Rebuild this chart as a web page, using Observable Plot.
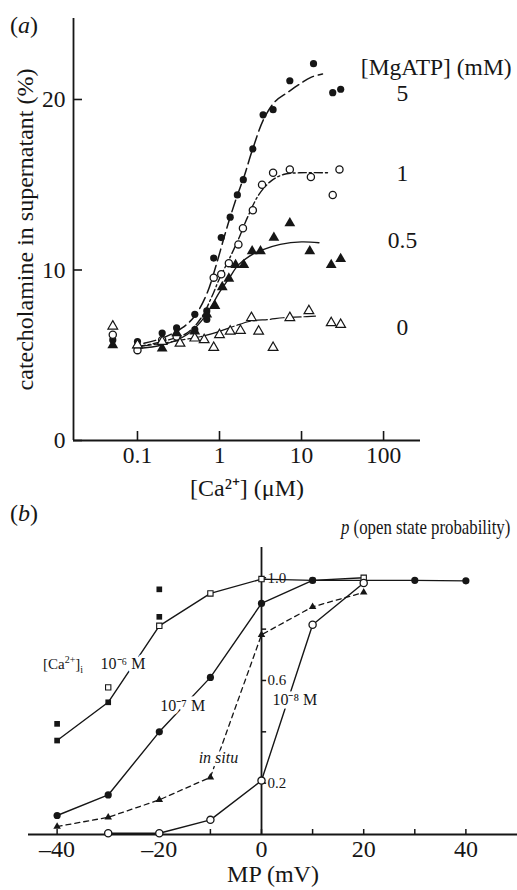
<!DOCTYPE html>
<html><head><meta charset="utf-8">
<script src="https://cdn.jsdelivr.net/npm/d3@7"></script>
<script src="https://cdn.jsdelivr.net/npm/@observablehq/plot@0.6"></script>
<style>
body{margin:0;background:#fff;}
#wrap{position:relative;width:517px;height:890px;font-family:"Liberation Serif","Times New Roman",serif;color:#161616;overflow:hidden;}
#wrap svg{display:block;}
.ov{position:absolute;white-space:nowrap;line-height:1;}
</style></head><body>
<div id="wrap"></div>
<script>
// ---------- Panel (a) data: [Ca2+] (µM) vs catecholamine release (%) ----------
const caTicks = [0.1, 1, 10, 100];
const pctTicks = [0, 10, 20];
const mgLevels = ["5", "1", "0.5", "0"];

// 5 mM MgATP (filled circles)
const ca5 = [0.05, 0.1, 0.2, 0.3, 0.5, 0.5, 0.7, 0.7, 0.85, 1.05, 1.35, 1.65, 1.95, 2.55, 3.4, 4.5, 7.2, 14, 24, 30];
const pct5 = [5.9, 5.8, 6.3, 6.6, 6.5, 7.4, 7.1, 7.6, 10.7, 11.9, 13.1, 14.4, 15.3, 17.1, 19.1, 19.4, 21.1, 22.1, 20.4, 20.6];
// 1 mM MgATP (open circles)
const ca1 = [0.05, 0.1, 0.2, 0.3, 0.85, 1.05, 1.3, 1.7, 1.93, 2.55, 3.3, 4.5, 7.2, 13, 24, 29];
const pct1 = [6.2, 5.3, 5.9, 6.1, 9.55, 9.75, 10.4, 11.5, 12.45, 13.5, 15.0, 15.7, 15.9, 15.45, 14.4, 15.9];
// 0.5 mM MgATP (filled triangles)
const ca05 = [0.05, 0.1, 0.2, 0.3, 0.5, 0.7, 0.88, 1.08, 1.3, 1.57, 1.98, 2.5, 3.16, 4.6, 7.2, 12.6, 23, 30];
const pct05 = [5.6, 5.6, 5.4, 6.3, 6.4, 7.4, 7.9, 9.0, 9.5, 10.3, 10.3, 11.1, 11.1, 11.9, 12.75, 11.1, 10.3, 10.65];
// 0 mM MgATP (open triangles)
const ca0 = [0.05, 0.1, 0.2, 0.33, 0.5, 0.65, 0.85, 1.0, 1.35, 1.8, 2.45, 3.0, 4.5, 7.2, 12.3, 23, 30];
const pct0 = [6.7, 5.6, 5.8, 5.7, 6.0, 5.9, 5.45, 6.2, 6.4, 6.45, 7.2, 6.4, 5.45, 7.2, 7.6, 6.9, 6.8];

// fitted curves
const fitCa5 = [0.12, 0.2, 0.35, 0.5, 0.7, 0.9, 1.2, 1.6, 2.0, 2.5, 3.5, 4.8, 6.7, 9.5, 13, 18];
const fitPct5 = [5.7, 6.0, 6.6, 7.3, 8.6, 10.2, 12.3, 14.2, 15.5, 17.0, 18.9, 19.9, 20.4, 20.9, 21.3, 21.5];
const fitCa1 = [0.1, 0.2, 0.4, 0.6, 0.8, 1.0, 1.3, 1.7, 2.2, 3.0, 4.2, 6.0, 9.3, 21];
const fitPct1 = [5.5, 5.8, 6.3, 7.2, 8.4, 9.5, 10.6, 11.8, 13.1, 14.4, 15.2, 15.6, 15.7, 15.7];
const fitCa05 = [0.1, 0.2, 0.4, 0.6, 0.8, 1.0, 1.3, 1.7, 2.3, 3.2, 5.5, 10, 16.3];
const fitPct05 = [5.4, 5.6, 6.2, 7.0, 7.9, 8.7, 9.5, 10.3, 10.8, 11.15, 11.5, 11.65, 11.6];
const fitCa0 = [0.1, 0.2, 0.35, 0.6, 1.0, 1.5, 2.4, 4.0, 6.0, 10, 14.8];
const fitPct0 = [5.5, 5.7, 5.9, 6.1, 6.4, 6.7, 7.0, 7.1, 7.2, 7.25, 7.3];

// ---------- Panel (b) data: membrane potential (mV) vs open probability ----------
const mpTicks = [-40, -30, -20, -10, 0, 10, 20, 30, 40];
const pTicks = [0.2, 0.4, 0.6, 0.8, 1.0];
const pTickLabels = [0.2, 0.6, 1.0];

const mpCa6Open = [-30, -20, -10, 0, 20];
const pCa6Open = [0.573, 0.813, 0.939, 0.995, 1.0];
const mpCa6Filled = [-40, -40, -30, -20, -20, 10];
const pCa6Filled = [0.431, 0.366, 0.515, 0.848, 0.955, 0.99];
const mpCa6Line = [-40, -30, -20, -10, 0, 10, 20];
const pCa6Line = [0.366, 0.515, 0.813, 0.939, 0.995, 0.99, 1.0];

const mpCa7 = [-40, -30, -20, -10, 0, 10, 30, 40];
const pCa7 = [0.074, 0.154, 0.40, 0.612, 0.90, 0.99, 0.99, 0.988];

const mpSitu = [-40, -30, -20, -10, 0, 10, 20];
const pSitu = [0.031, 0.067, 0.135, 0.223, 0.778, 0.887, 0.943];

const mpCa8 = [-30, -20, -10, 0, 10, 20];
const pCa8 = [0.005, 0.005, 0.057, 0.21, 0.817, 0.98];

// ---------- helpers ----------
const ink = "#161616";
const serif = "'Liberation Serif','Times New Roman',serif";
const rows = (xs, ys) => xs.map((x, i) => ({x, y: ys[i]}));

// ---------- Panel (a) ----------
const xDomA = [0.0166, 282];
const plotA = Plot.plot({
  width: 517, height: 500,
  marginLeft: 73, marginRight: 97, marginTop: 18, marginBottom: 60,
  style: {fontFamily: serif, fontSize: "23px", color: ink, background: "white"},
  x: {type: "log", domain: xDomA, axis: null},
  y: {domain: [0, 24.75], axis: null},
  marks: [
    Plot.ruleY([0], {stroke: ink, strokeWidth: 1.8}),
    Plot.ruleX([xDomA[0]], {stroke: ink, strokeWidth: 1.8}),
    Plot.axisX({ticks: caTicks, tickFormat: d => String(d), tickSize: -9, tickPadding: 15, label: null, fontSize: 23.5, strokeWidth: 1.6}),
    Plot.axisY({ticks: pctTicks, tickFormat: d => String(d), tickSize: -9, tickPadding: 17, label: null, fontSize: 23.5, strokeWidth: 1.6}),
    Plot.text(["[Ca²⁺] (μM)"], {text: d => d, frameAnchor: "bottom", lineAnchor: "middle", dy: 48, fontSize: 24}),
    Plot.text(["catecholamine in supernatant (%)"], {text: d => d, frameAnchor: "left", textAnchor: "middle", lineAnchor: "middle", dx: -48, rotate: -90, fontSize: 24}),
    Plot.line(rows(fitCa5, fitPct5), {x: "x", y: "y", curve: "catmull-rom", stroke: ink, strokeWidth: 1.5, strokeDasharray: "12,5"}),
    Plot.line(rows(fitCa1, fitPct1), {x: "x", y: "y", curve: "catmull-rom", stroke: ink, strokeWidth: 1.4, strokeDasharray: "8,3,2,3"}),
    Plot.line(rows(fitCa05, fitPct05), {x: "x", y: "y", curve: "catmull-rom", stroke: ink, strokeWidth: 1.4}),
    Plot.line(rows(fitCa0, fitPct0), {x: "x", y: "y", curve: "catmull-rom", stroke: ink, strokeWidth: 1.2, strokeDasharray: "14,3"}),
    Plot.dot(rows(ca5, pct5), {x: "x", y: "y", r: 3.6, fill: ink}),
    Plot.dot(rows(ca1, pct1), {x: "x", y: "y", r: 3.6, fill: "white", stroke: ink, strokeWidth: 1.3}),
    Plot.dot(rows(ca05, pct05), {x: "x", y: "y", r: 4.0, symbol: "triangle", fill: ink}),
    Plot.dot(rows(ca0, pct0), {x: "x", y: "y", r: 3.6, symbol: "triangle", fill: "white", stroke: ink, strokeWidth: 1.2}),
    Plot.text(mgLevels, {text: d => d, x: () => 170, y: (d, i) => [20.35, 15.66, 11.73, 6.63][i], fontSize: 23.5}),
    Plot.text(["[MgATP] (mM)"], {text: d => d, x: () => 3640, y: () => 21.9, textAnchor: "end", fontSize: 23.5})
  ]
});

// ---------- Panel (b) ----------
const haloText = (data, opts) => [
  Plot.text(data, {...opts, fill: "white", stroke: "white", strokeWidth: 7}),
  Plot.text(data, {...opts, fill: ink})
];
const plotB = Plot.plot({
  width: 517, height: 390,
  marginLeft: 28, marginRight: 0, marginTop: 47, marginBottom: 56,
  style: {fontFamily: serif, fontSize: "24px", color: ink, background: "white"},
  x: {domain: [-45.6, 50.1], axis: null},
  y: {domain: [0, 1.118], axis: null},
  marks: [
    Plot.ruleY([0], {stroke: ink, strokeWidth: 1.8}),
    Plot.ruleX([0], {stroke: ink, strokeWidth: 1.8}),
    Plot.axisX({ticks: mpTicks, tickSize: -5, tickPadding: 10, label: null, fontSize: 24, strokeWidth: 1.5,
      tickFormat: d => d % 20 ? "" : (d < 0 ? "–" + (-d) : String(d))}),
    Plot.ruleY(pTicks, {y: d => d, x1: 0, x2: 1, stroke: ink, strokeWidth: 1.5}),
    Plot.text(pTickLabels, {x: 0, y: d => d, text: d => d.toFixed(1), dx: 6, textAnchor: "start", fontSize: 15}),
    Plot.text(["MP (mV)"], {text: d => d, frameAnchor: "bottom", lineAnchor: "middle", dy: 40, fontSize: 24}),
    Plot.line(rows(mpCa6Line, pCa6Line), {x: "x", y: "y", stroke: ink, strokeWidth: 1.4}),
    Plot.line(rows(mpCa7, pCa7), {x: "x", y: "y", stroke: ink, strokeWidth: 1.4}),
    Plot.line(rows(mpSitu, pSitu), {x: "x", y: "y", stroke: ink, strokeWidth: 1.3, strokeDasharray: "5,4"}),
    Plot.line(rows(mpCa8, pCa8), {x: "x", y: "y", stroke: ink, strokeWidth: 1.4}),
    ...haloText(["10⁻⁶ M"], {text: d => d, x: () => -31.5, y: () => 0.665, textAnchor: "start", fontSize: 16}),
    ...haloText(["10⁻⁷ M"], {text: d => d, x: () => -19.8, y: () => 0.502, textAnchor: "start", fontSize: 16}),
    ...haloText(["in situ"], {text: d => d, x: () => -12.3, y: () => 0.30, textAnchor: "start", fontSize: 16, fontStyle: "italic"}),
    ...haloText(["10⁻⁸ M"], {text: d => d, x: () => 2.15, y: () => 0.525, textAnchor: "start", fontSize: 16}),
    Plot.dot(rows(mpCa6Filled, pCa6Filled), {x: "x", y: "y", r: 3.2, symbol: "square", fill: ink}),
    Plot.dot(rows(mpCa6Open, pCa6Open), {x: "x", y: "y", r: 3.0, symbol: "square", fill: "white", stroke: ink, strokeWidth: 1.1}),
    Plot.dot(rows(mpCa7, pCa7), {x: "x", y: "y", r: 3.6, fill: ink}),
    Plot.dot(rows(mpSitu, pSitu), {x: "x", y: "y", r: 2.8, symbol: "triangle", fill: ink}),
    Plot.dot(rows(mpCa8, pCa8), {x: "x", y: "y", r: 3.6, fill: "white", stroke: ink, strokeWidth: 1.3})
  ]
});

const wrap = document.getElementById("wrap");
wrap.appendChild(plotA);
wrap.appendChild(plotB);

function overlay(html, left, top, size, extra) {
  const d = document.createElement("div");
  d.className = "ov";
  d.style.left = left + "px";
  d.style.top = top + "px";
  d.style.fontSize = size + "px";
  if (extra) Object.assign(d.style, extra);
  d.innerHTML = html;
  wrap.appendChild(d);
}
overlay("(<i>a</i>)", 10, 13, 24);
overlay("(<i>b</i>)", 10, 501, 24);
overlay("<i>p</i> (open state probability)", 341, 517, 21, {transform: "scaleX(0.8)", transformOrigin: "0 50%"});
overlay("[Ca<sup style='font-size:10px'>2+</sup>]<sub style='font-size:10px'>i</sub>", 43, 655, 15);
</script>
</body></html>
